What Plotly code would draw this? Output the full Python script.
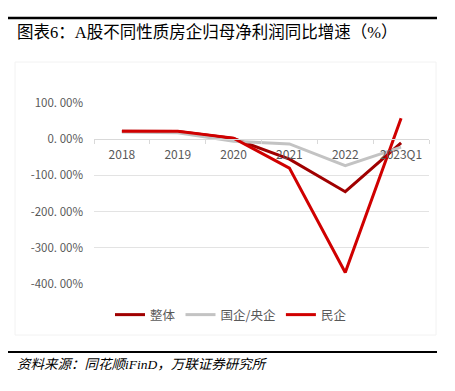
import plotly.graph_objects as go

categories = ["2018", "2019", "2020", "2021", "2022", "2023Q1"]
overall = [22, 21, 2, -55, -145, -10]
soe = [20, 18, -6, -13, -73, -22]
private = [22, 22, 3, -80, -368, 58]
tick_vals = [100, 0, -100, -200, -300, -400]
tick_text = ["100. 00%", "0. 00%", "-100. 00%", "-200. 00%", "-300. 00%", "-400. 00%"]

OFF = 8  # page body margin
W, H = 455 - OFF, 391 - OFF
L, R, T, B = 94 - OFF, 429 - OFF, 103 - OFF, 284 - OFF

def px(x):
    return (x - OFF - L) / (R - L)

def py(y):
    return (B - (y - OFF)) / (B - T)

cjk = "Noto Sans CJK SC"
fig = go.Figure()
fig.add_trace(go.Scatter(x=categories, y=overall, name="整体", mode="lines",
                         line=dict(color="#A00000", width=3)))
fig.add_trace(go.Scatter(x=categories, y=soe, name="国企/央企", mode="lines",
                         line=dict(color="#C3C3C3", width=3)))
fig.add_trace(go.Scatter(x=categories, y=private, name="民企", mode="lines",
                         line=dict(color="#D00000", width=3)))

fig.update_layout(
    width=W, height=H,
    margin=dict(l=L, r=W - R, t=T, b=H - B, autoexpand=False),
    paper_bgcolor="white", plot_bgcolor="white",
    font=dict(family=cjk, color="#595959", size=11),
    showlegend=True,
    legend=dict(orientation="h", x=px(231), xanchor="center", y=py(315), yanchor="middle",
                font=dict(size=12.5, color="#595959"), entrywidth=0,
                tracegroupgap=0),
    xaxis=dict(type="category", anchor="free", position=0.8, showgrid=False,
               showline=True, linecolor="#D9D9D9", linewidth=1,
               ticks="outside", ticklen=4, tickcolor="#D9D9D9", tickson="boundaries",
               tickfont=dict(size=12, color="#595959"), range=[-0.5, 5.5],
               ticklabelstandoff=4),
    yaxis=dict(range=[-400, 100], tickvals=tick_vals, ticktext=tick_text,
               showgrid=True, gridcolor="#E3E3E3", gridwidth=1, zeroline=False,
               showline=False, ticks="", tickfont=dict(size=11.5, color="#595959"),
               ticklabelstandoff=10),
    shapes=[
        dict(type="line", xref="paper", yref="paper", x0=px(0), x1=px(437),
             y0=py(18), y1=py(18), line=dict(color="black", width=2.5)),
        dict(type="line", xref="paper", yref="paper", x0=px(0), x1=px(437),
             y0=py(352), y1=py(352), line=dict(color="black", width=2)),
        dict(type="rect", xref="paper", yref="paper", x0=px(15), x1=px(436),
             y0=py(335), y1=py(62), line=dict(color="#F2F2F2", width=1), layer="below"),
    ],
    annotations=[
        dict(text="图表6：A股不同性质房企归母净利润同比增速（%）", xref="paper", yref="paper",
             x=px(15), y=py(32), xanchor="left", yanchor="middle", showarrow=False,
             font=dict(family="Liberation Serif, " + cjk, size=16.5, color="black")),
        dict(text="<i>资料来源：同花顺iFinD，万联证券研究所</i>", xref="paper", yref="paper",
             x=px(15), y=py(364), xanchor="left", yanchor="middle", showarrow=False,
             font=dict(family="Liberation Serif, " + cjk, size=13.5, color="black")),
    ],
)
fig.write_html("out.html")
